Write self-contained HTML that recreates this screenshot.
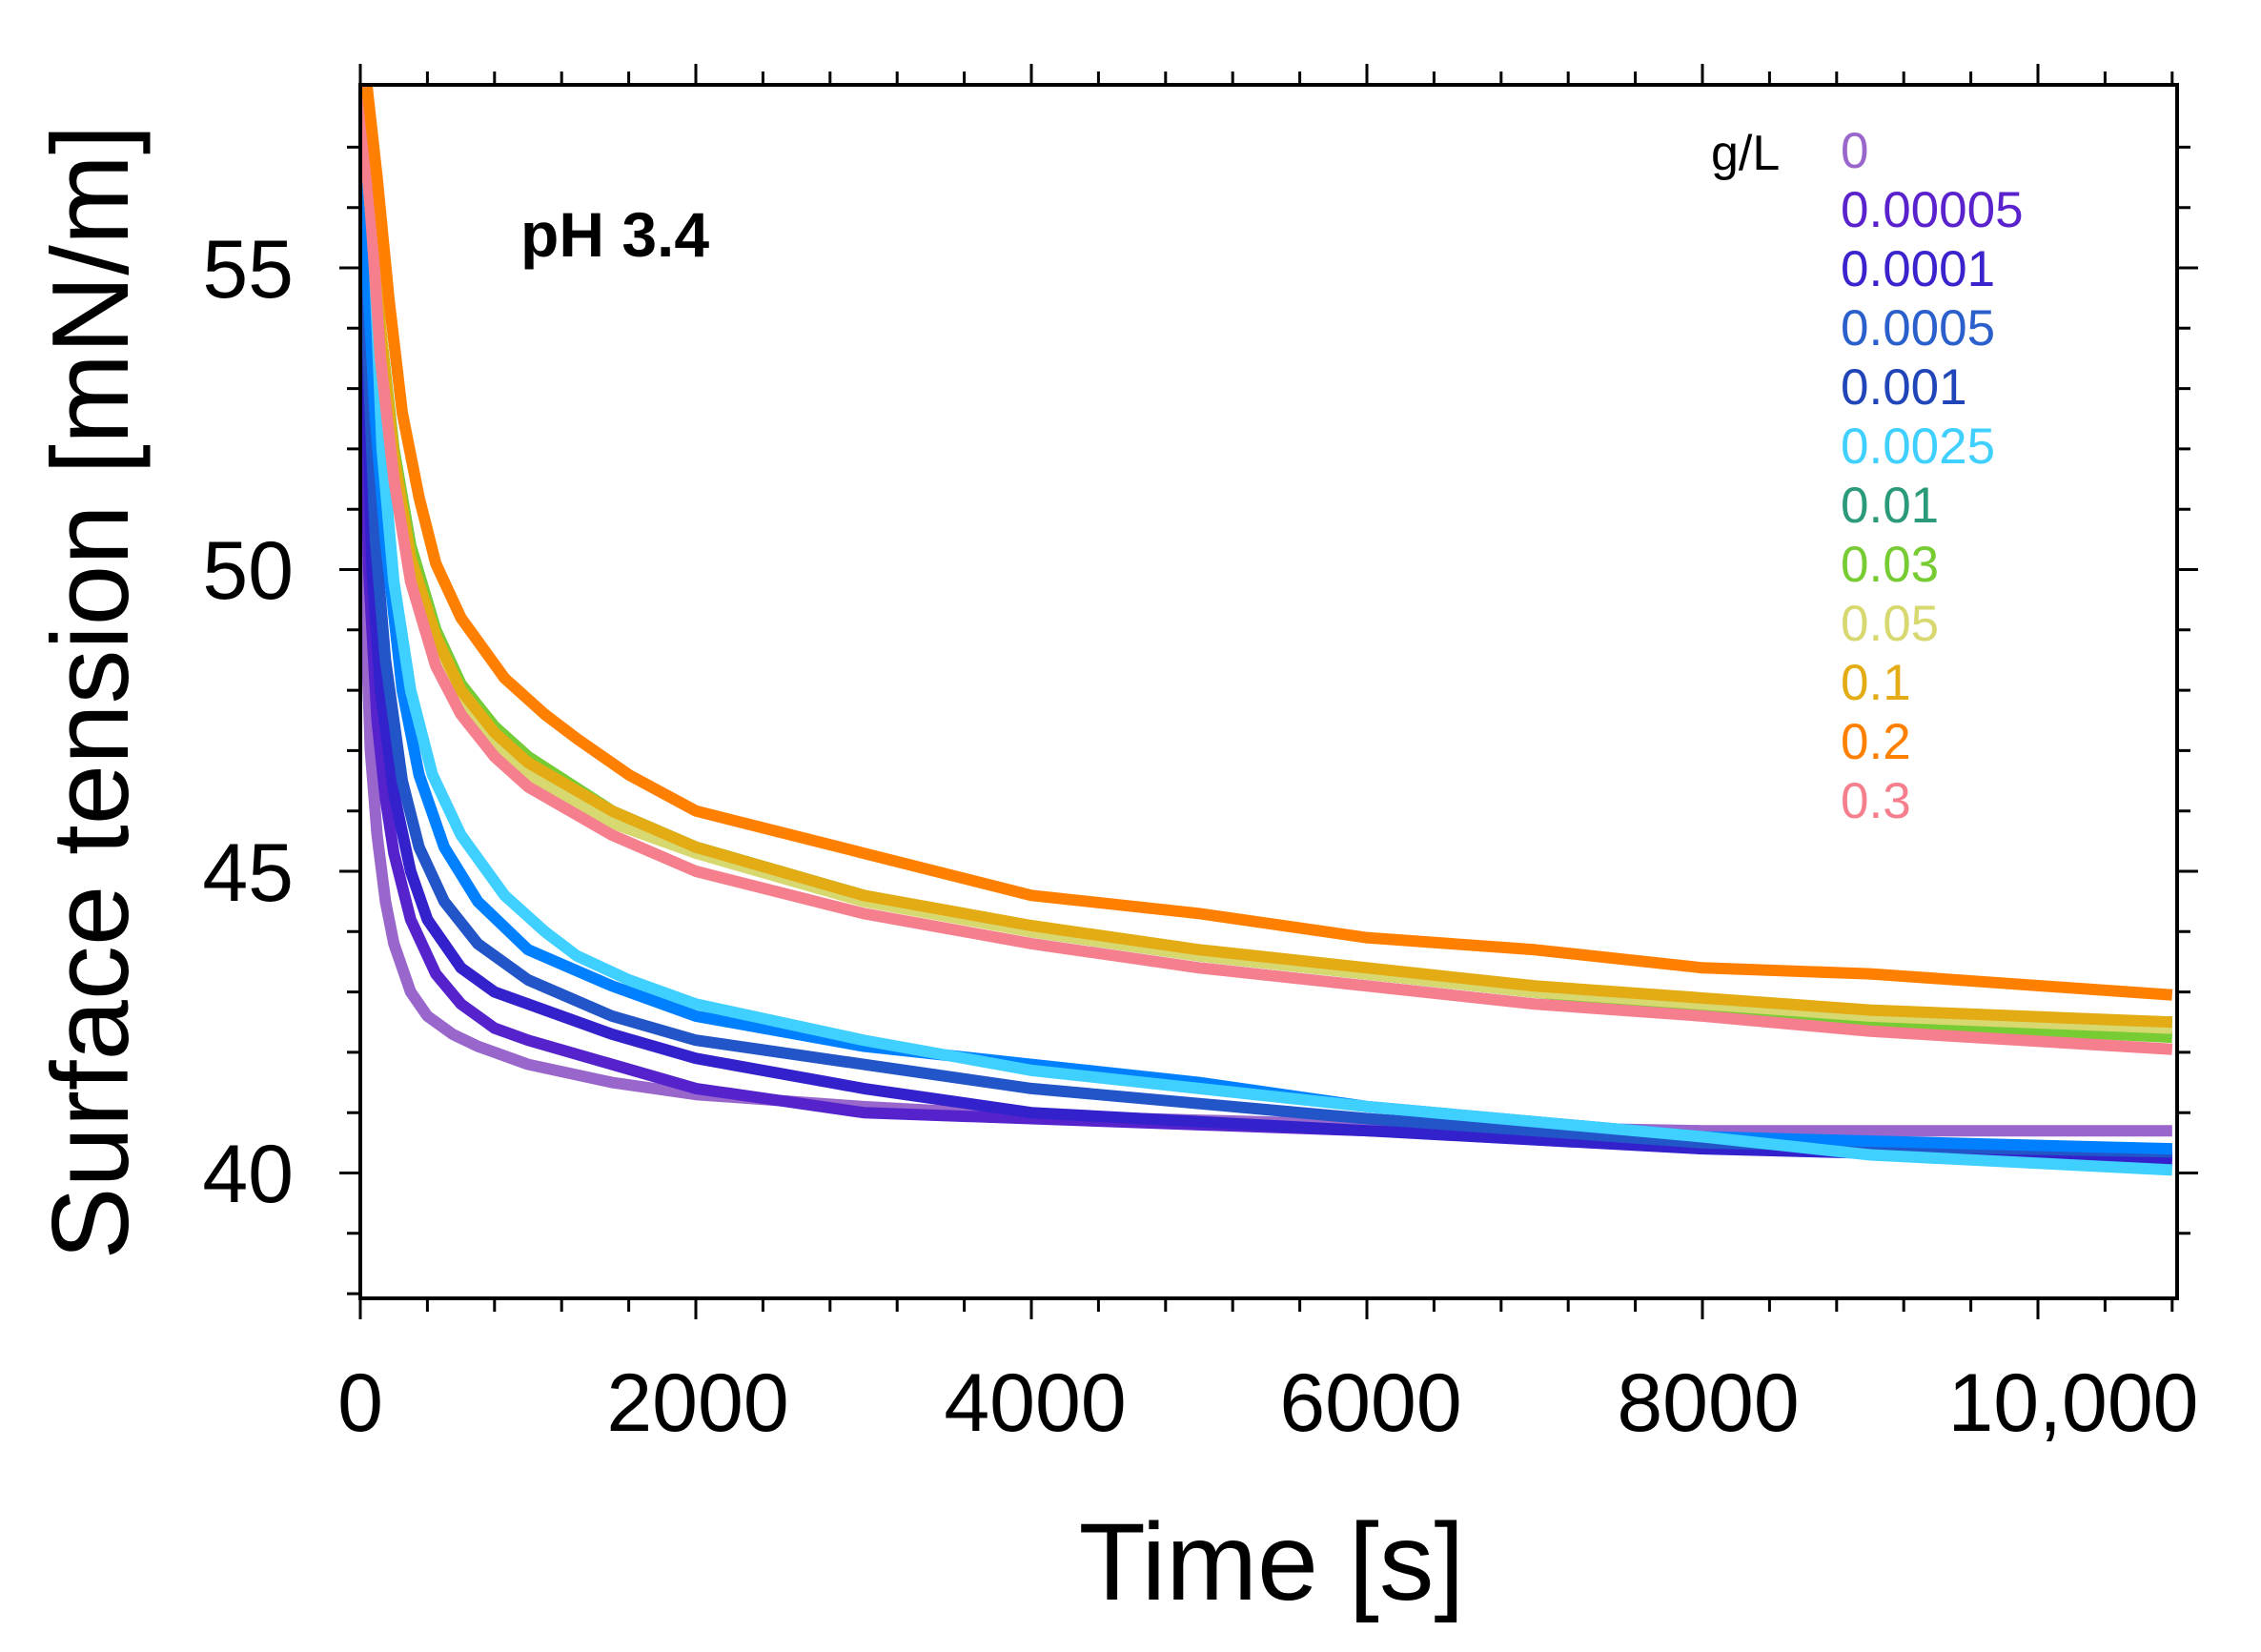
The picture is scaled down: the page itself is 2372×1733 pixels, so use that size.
<!DOCTYPE html>
<html><head><meta charset="utf-8"><style>
html,body{margin:0;padding:0;background:#fff;}
svg{display:block;}
text{font-family:"Liberation Sans",Arial,sans-serif;}
</style></head><body>
<svg width="2372" height="1733" viewBox="0 0 2372 1733" xmlns="http://www.w3.org/2000/svg">
<defs><clipPath id="c"><rect x="378" y="89" width="1906" height="1273"/></clipPath></defs>
<g clip-path="url(#c)">
<g transform="translate(378,281) scale(0.176,-63.3) translate(0,-55)" fill="none" stroke-width="12" stroke-linejoin="round">
<polyline vector-effect="non-scaling-stroke" stroke="#9966cc" points="0,58 15,53 35,49 60,47 100,45.6 150,44.5 200,43.8 300,43.0 400,42.6 550,42.3 700,42.1 1000,41.8 1500,41.5 2000,41.3 3000,41.1 4000,40.95 6000,40.8 8000,40.7 10800,40.7"/>
<polyline vector-effect="non-scaling-stroke" stroke="#5522cc" points="0,58 20,54 50,50 100,47.5 150,46.2 200,45.3 300,44.2 450,43.3 600,42.8 800,42.4 1000,42.2 1500,41.8 2000,41.4 3000,41.0 4000,40.9 6000,40.7 8000,40.5 10800,40.25"/>
<polyline vector-effect="non-scaling-stroke" stroke="#3322cc" points="0,58 30,54 70,50 120,48 200,46.3 300,45 400,44.2 600,43.4 800,43.0 1000,42.8 1500,42.3 2000,41.9 3000,41.4 4000,41.0 6000,40.7 8000,40.4 10800,40.2"/>
<polyline vector-effect="non-scaling-stroke" stroke="#2255c8" points="0,58 40,54 90,50.5 150,48.5 250,46.5 350,45.4 500,44.5 700,43.8 1000,43.2 1500,42.6 2000,42.2 3000,41.8 4000,41.4 6000,40.9 8000,40.5 10800,40.35"/>
<polyline vector-effect="non-scaling-stroke" stroke="#0080ff" points="0,58 40,55 90,52.5 150,50.5 250,48 350,46.6 500,45.4 700,44.5 1000,43.7 1500,43.1 2000,42.6 3000,42.1 4000,41.8 5000,41.5 6000,41.1 8000,40.6 10800,40.4"/>
<polyline vector-effect="non-scaling-stroke" stroke="#40d0ff" points="0,58 70,56 130,52 200,49.8 300,48 430,46.6 600,45.6 860,44.6 1100,44 1290,43.6 1600,43.2 2000,42.8 3000,42.2 4000,41.7 6000,41.1 8000,40.6 9000,40.3 10800,40.05"/>
<polyline vector-effect="non-scaling-stroke" stroke="#2aa07a" points="0,58 60,56 120,54 200,52 300,50.4 450,49 600,48.1 800,47.4 1000,46.9 1500,46 2000,45.4 3000,44.6 4000,44.0 5000,43.6 6000,43.3 7000,43.0 8000,42.8 9000,42.6 10800,42.5"/>
<polyline vector-effect="non-scaling-stroke" stroke="#77cc33" points="0,58 60,56 120,54 200,52 300,50.4 450,49 600,48.1 800,47.4 1000,46.9 1500,46 2000,45.4 3000,44.6 4000,44.0 5000,43.6 6000,43.3 7000,43.0 8000,42.7 9000,42.5 10800,42.25"/>
<polyline vector-effect="non-scaling-stroke" stroke="#d8d870" points="0,58 60,56 120,54 200,51.8 300,50.1 450,48.7 600,47.8 800,47.1 1000,46.6 1500,45.8 2000,45.3 3000,44.5 4000,44.0 5000,43.6 6000,43.3 7000,43.0 8000,42.8 9000,42.6 10800,42.4"/>
<polyline vector-effect="non-scaling-stroke" stroke="#e3ac15" points="0,58 60,56 120,54 200,51.9 300,50.2 450,48.9 600,48.0 800,47.3 1000,46.8 1500,46.0 2000,45.4 3000,44.6 4000,44.1 5000,43.7 6000,43.4 7000,43.1 8000,42.9 9000,42.7 10800,42.5"/>
<polyline vector-effect="non-scaling-stroke" stroke="#f57f8c" points="0,58 60,56 120,53.5 200,51.5 300,49.8 450,48.4 600,47.6 800,46.9 1000,46.4 1500,45.6 2000,45.0 3000,44.3 4000,43.8 5000,43.4 6000,43.1 7000,42.8 8000,42.6 9000,42.35 10800,42.05"/>
<polyline vector-effect="non-scaling-stroke" stroke="#ff8000" points="40,58 100,56.5 170,54.5 250,52.6 350,51.2 450,50.1 600,49.2 860,48.2 1100,47.6 1290,47.2 1600,46.6 2000,46.0 3000,45.3 4000,44.6 5000,44.3 6000,43.9 7000,43.7 8000,43.4 9000,43.3 10800,42.95"/>
</g>
</g>
<rect x="378" y="89" width="1906" height="1273" fill="none" stroke="#000" stroke-width="4"/>
<g stroke="#000" stroke-width="3">
<path d="M378,1362v22M448.4,1362v14M518.8,1362v14M589.2,1362v14M659.6,1362v14M730,1362v22M800.4,1362v14M870.8,1362v14M941.2,1362v14M1011.6,1362v14M1082,1362v22M1152.4,1362v14M1222.8,1362v14M1293.2,1362v14M1363.6,1362v14M1434,1362v22M1504.4,1362v14M1574.8,1362v14M1645.2,1362v14M1715.6,1362v14M1786,1362v22M1856.4,1362v14M1926.8,1362v14M1997.2,1362v14M2067.6,1362v14M2138,1362v22M2208.4,1362v14M2278.8,1362v14"/>
<path d="M378,89v-22M448.4,89v-14M518.8,89v-14M589.2,89v-14M659.6,89v-14M730,89v-22M800.4,89v-14M870.8,89v-14M941.2,89v-14M1011.6,89v-14M1082,89v-22M1152.4,89v-14M1222.8,89v-14M1293.2,89v-14M1363.6,89v-14M1434,89v-22M1504.4,89v-14M1574.8,89v-14M1645.2,89v-14M1715.6,89v-14M1786,89v-22M1856.4,89v-14M1926.8,89v-14M1997.2,89v-14M2067.6,89v-14M2138,89v-22M2208.4,89v-14M2278.8,89v-14"/>
<path d="M378,154.4h-14M378,217.7h-14M378,281h-22M378,344.3h-14M378,407.6h-14M378,470.9h-14M378,534.2h-14M378,597.5h-22M378,660.8h-14M378,724.1h-14M378,787.4h-14M378,850.7h-14M378,914h-22M378,977.3h-14M378,1040.6h-14M378,1103.9h-14M378,1167.2h-14M378,1230.5h-22M378,1293.8h-14M378,1357.1h-14"/>
<path d="M2284,154.4h14M2284,217.7h14M2284,281h22M2284,344.3h14M2284,407.6h14M2284,470.9h14M2284,534.2h14M2284,597.5h22M2284,660.8h14M2284,724.1h14M2284,787.4h14M2284,850.7h14M2284,914h22M2284,977.3h14M2284,1040.6h14M2284,1103.9h14M2284,1167.2h14M2284,1230.5h22M2284,1293.8h14"/>
</g>
<g font-size="86" text-anchor="end" fill="#000">
<text x="308" y="312">55</text>
<text x="308" y="628">50</text>
<text x="308" y="945">45</text>
<text x="308" y="1261">40</text>
</g>
<g font-size="86" text-anchor="middle" fill="#000">
<text x="378" y="1501">0</text>
<text x="732" y="1501">2000</text>
<text x="1086" y="1501">4000</text>
<text x="1438" y="1501">6000</text>
<text x="1792" y="1501">8000</text>
<text x="2175" y="1501">10,000</text>
</g>
<text x="1334" y="1678" font-size="115" text-anchor="middle">Time [s]</text>
<text transform="translate(134,726) rotate(-90)" font-size="114" text-anchor="middle">Surface tension [mN/m]</text>
<text x="546" y="269" font-size="66" font-weight="bold">pH 3.4</text>
<text x="1795" y="178" font-size="52">g/L</text>
<g font-size="53">
<text x="1931" y="176" fill="#9966cc">0</text>
<text x="1931" y="238" fill="#5a22cc">0.00005</text>
<text x="1931" y="300" fill="#3a22cc">0.0001</text>
<text x="1931" y="362" fill="#2a5fcc">0.0005</text>
<text x="1931" y="424" fill="#2045b8">0.001</text>
<text x="1931" y="486" fill="#40d0ff">0.0025</text>
<text x="1931" y="548" fill="#2a9a7a">0.01</text>
<text x="1931" y="610" fill="#77cc33">0.03</text>
<text x="1931" y="672" fill="#d8d870">0.05</text>
<text x="1931" y="734" fill="#e3ac15">0.1</text>
<text x="1931" y="796" fill="#ff8000">0.2</text>
<text x="1931" y="858" fill="#f57f8c">0.3</text>
</g>
</svg>
</body></html>
